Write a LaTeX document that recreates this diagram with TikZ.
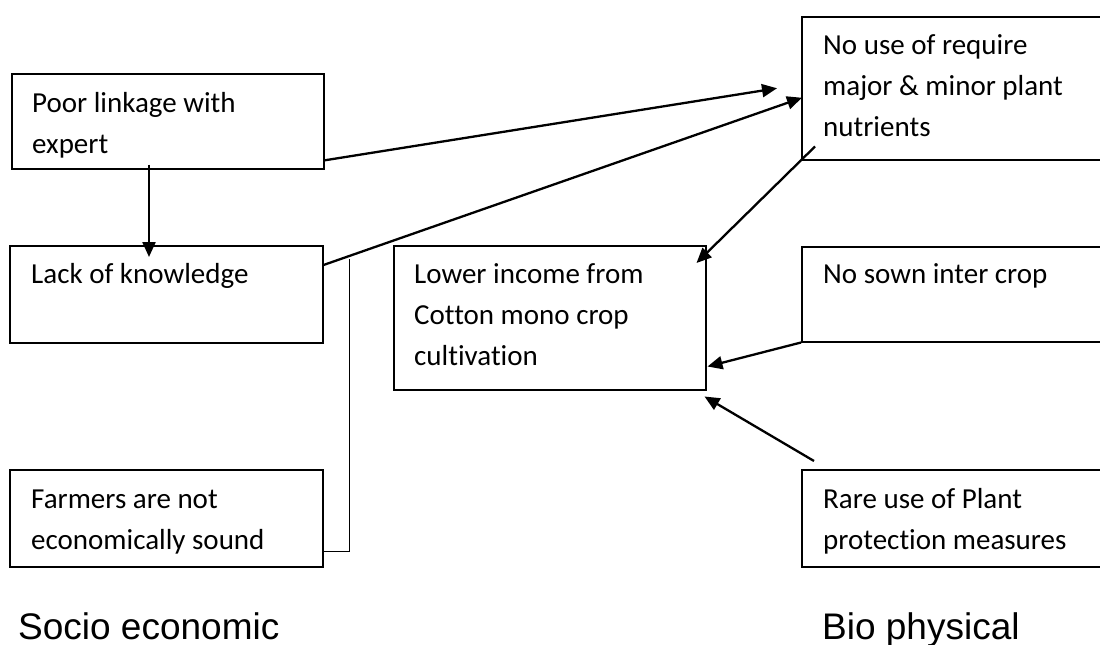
\documentclass[tikz,border=0pt]{standalone}
\usepackage{fontspec}
\newfontfamily\boxfont[Ligatures=NoCommon]{Carlito}
\newfontfamily\labfont{Liberation Sans}
\usetikzlibrary{arrows.meta}
\begin{document}
\begin{tikzpicture}[x=1pt,y=-1pt,
  box/.style={draw, line width=1.5pt, inner sep=0pt, anchor=north west},
  txt/.style={anchor=north west, inner sep=0pt, font=\boxfont\fontsize{29}{41}\selectfont, align=left},
  lab/.style={anchor=base west, inner sep=0pt, font=\labfont\fontsize{37}{44}\selectfont},
  arr/.style={line width=2.3pt, -{Triangle[length=15pt,width=13pt]}},
  brk/.style={line width=1.4pt}]
\clip (0,0) rectangle (1100,645);
\useasboundingbox (0,0) rectangle (1100,645);
% boxes
\node[box, minimum width=312pt, minimum height=95pt] (b1) at (11,73) {};
\node[box, minimum width=313pt, minimum height=97pt] (b2) at (9,245) {};
\node[box, minimum width=313pt, minimum height=97pt] (b3) at (9,469) {};
\node[box, minimum width=312pt, minimum height=144pt] (b7) at (393,245) {};
\node[box, minimum width=320pt, minimum height=143pt] (b4) at (801,16) {};
\node[box, minimum width=320pt, minimum height=95pt] (b5) at (801,246) {};
\node[box, minimum width=320pt, minimum height=97pt] (b6) at (801,469) {};
% texts
\node[txt] (t1) at ([xshift=21pt,yshift=-10.3pt]b1.north west) {\strut Poor linkage with\\\strut expert};
\node[txt] (t2) at ([xshift=22pt,yshift=-9.3pt]b2.north west) {\strut Lack of knowledge};
\node[txt] (t3) at ([xshift=22pt,yshift=-10.3pt]b3.north west) {\strut Farmers are not\\\strut economically sound};
\node[txt] (t7) at ([xshift=21pt,yshift=-9.3pt]b7.north west) {\strut Lower income from\\\strut Cotton mono crop\\\strut cultivation};
\node[txt] (t4) at ([xshift=22pt,yshift=-9.3pt]b4.north west) {\strut No use of require\\\strut major \& minor plant\\\strut nutrients};
\node[txt] (t5) at ([xshift=22pt,yshift=-8.3pt]b5.north west) {\strut No sown inter crop};
\node[txt] (t6) at ([xshift=22pt,yshift=-10.3pt]b6.north west) {\strut Rare use of Plant\\\strut protection measures};
% labels
\node[lab] (l1) at (18,639) {Socio economic};
\node[lab] (l2) at (822,639) {Bio physical};
% connectors
\draw[arr] ([xshift=138pt,yshift=5pt]b1.south west) -- ([xshift=140pt,yshift=-12pt]b2.north west);
\draw[arr] ([xshift=-1pt,yshift=9pt]b1.south east) -- ([xshift=-24pt]b4.west);
\draw[arr] ([yshift=-20pt]b2.north east) -- ([xshift=1pt,yshift=-9.5pt]b4.west);
\draw[arr] ([xshift=14pt,yshift=14pt]b4.south west) -- ([xshift=-10pt,yshift=-18pt]b7.north east);
\draw[arr] (b5.south west) -- ([xshift=1pt,yshift=24pt]b7.south east);
\draw[arr] ([xshift=13pt,yshift=8pt]b6.north west) -- ([xshift=-2pt,yshift=-6pt]b7.south east);
\draw[brk] ([xshift=26pt,yshift=-14pt]b2.north east) -- ([xshift=26pt,yshift=16pt]b3.south east) -- ([yshift=16pt]b3.south east);
\end{tikzpicture}
\end{document}
